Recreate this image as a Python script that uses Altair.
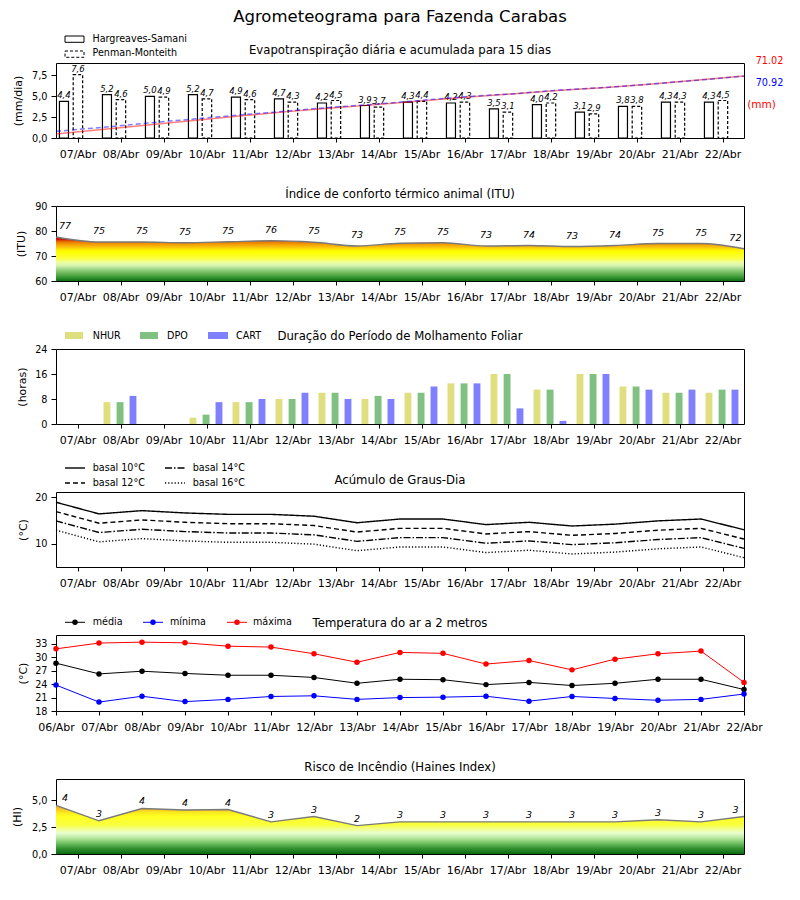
import json
import altair as alt
import pandas as pd

# ---------------- data ----------------
dates16 = ["07/Abr", "08/Abr", "09/Abr", "10/Abr", "11/Abr", "12/Abr", "13/Abr", "14/Abr",
           "15/Abr", "16/Abr", "17/Abr", "18/Abr", "19/Abr", "20/Abr", "21/Abr", "22/Abr"]
dates17 = ["06/Abr", "07/Abr", "08/Abr", "09/Abr", "10/Abr", "11/Abr", "12/Abr", "13/Abr", "14/Abr",
           "15/Abr", "16/Abr", "17/Abr", "18/Abr", "19/Abr", "20/Abr", "21/Abr", "22/Abr"]

et_hs = [4.4, 5.2, 5.0, 5.2, 4.9, 4.7, 4.2, 3.9, 4.3, 4.2, 3.5, 4.0, 3.1, 3.8, 4.3, 4.3]
et_pm = [7.6, 4.6, 4.9, 4.7, 4.6, 4.3, 4.5, 3.7, 4.4, 4.3, 3.1, 4.2, 2.9, 3.8, 4.3, 4.5]
cum_hs = [4.5, 9.8, 14.9, 20.2, 25.2, 30.0, 34.4, 38.4, 42.8, 47.1, 50.7, 54.8, 58.0, 61.9, 66.4, 71.02]
cum_pm = [7.6, 12.2, 17.1, 21.8, 26.4, 30.7, 35.2, 38.9, 43.3, 47.6, 50.8, 55.0, 58.0, 61.9, 66.3, 70.92]
cum_totals = ["71.02", "70.92"]

itu = [77.6, 75.6, 75.6, 75.3, 75.7, 76.1, 75.5, 74.0, 75.1, 75.3, 74.0, 74.2, 73.8, 74.2, 75.0, 75.0, 72.9]
itu_labels = [77, 75, 75, 75, 75, 76, 75, 73, 75, 75, 73, 74, 73, 74, 75, 75, 72]

nhur = [0, 7, 0, 2, 7, 8, 10, 8, 10, 13, 16, 11, 16, 12, 10, 10]
dpo = [0, 7, 0, 3, 7, 8, 10, 9, 10, 13, 16, 11, 16, 12, 10, 11]
cart = [0, 9, 0, 7, 8, 10, 8, 8, 12, 13, 5, 1, 16, 11, 11, 11]

gd10 = [18.9, 16.4, 17.1, 16.6, 16.3, 16.3, 15.9, 14.5, 15.3, 15.3, 14.1, 14.6, 13.8, 14.2, 14.9, 15.3, 13.0]
gd12 = [16.9, 14.4, 15.1, 14.6, 14.3, 14.3, 13.9, 12.5, 13.3, 13.3, 12.1, 12.6, 11.8, 12.2, 12.9, 13.3, 11.0]
gd14 = [14.9, 12.4, 13.1, 12.6, 12.3, 12.3, 11.9, 10.5, 11.3, 11.3, 10.1, 10.6, 9.8, 10.2, 10.9, 11.3, 9.0]
gd16 = [12.9, 10.4, 11.1, 10.6, 10.3, 10.3, 9.9, 8.5, 9.3, 9.3, 8.1, 8.6, 7.8, 8.2, 8.9, 9.3, 7.0]

t_med = [28.7, 26.3, 26.9, 26.4, 26.0, 26.0, 25.5, 24.2, 25.1, 25.0, 23.9, 24.4, 23.7, 24.2, 25.1, 25.1, 22.8]
t_min = [23.8, 20.0, 21.3, 20.1, 20.6, 21.25, 21.4, 20.6, 21.0, 21.1, 21.3, 20.2, 21.25, 20.8, 20.4, 20.6, 21.8]
t_max = [31.9, 33.2, 33.4, 33.25, 32.5, 32.3, 30.8, 28.9, 31.1, 30.9, 28.5, 29.3, 27.2, 29.6, 30.8, 31.4, 24.4]

haines = [4.53, 3.1, 4.25, 4.1, 4.15, 3.0, 3.5, 2.65, 3.0, 3.0, 3.0, 3.0, 3.0, 3.0, 3.2, 3.0, 3.5]
haines_labels = [4, 3, 4, 4, 4, 3, 3, 2, 3, 3, 3, 3, 3, 3, 3, 3, 3]

# ---------------- helpers ----------------
FONT = "DejaVu Sans"
W = 688
H = 75
ONE = pd.DataFrame({"t": [""]})


def xaxis(labels):
    return alt.Axis(values=list(range(len(labels))), labelExpr=json.dumps(labels) + "[datum.value]",
                    title=None, labelFlush=False, labelOverlap=False, labelFontSize=11,
                    labelPadding=6, tickSize=4, domain=False, grid=False)


def yaxis(title, values, title_x, comma=False, h=H):
    kw = {}
    if comma:
        kw["labelExpr"] = "replace(format(datum.value, '.1f'), '.', ',')"
    else:
        kw["format"] = "d"
    return alt.Axis(values=values, title=title, titleX=title_x, titleY=h / 2, titleFontSize=11,
                    titleFontWeight="normal", labelFontSize=9.7, labelPadding=4, tickSize=5,
                    domain=False, grid=False, labelFlush=False, labelOverlap=False, **kw)


def txt(label, x, y, size=9.6, align="left", color="black", **kw):
    return alt.Chart(pd.DataFrame({"t": [label]})).mark_text(
        align=align, baseline="middle", fontSize=size, color=color, **kw
    ).encode(x=alt.value(x), y=alt.value(y), text="t:N")


def rect(x, x2, y, y2, **kw):
    return alt.Chart(ONE).mark_rect(**kw).encode(
        x=alt.value(x), x2=alt.value(x2), y=alt.value(y), y2=alt.value(y2))


def hline(x, x2, y, **kw):
    return alt.Chart(ONE).mark_rule(**kw).encode(x=alt.value(x), x2=alt.value(x2), y=alt.value(y))


def dot(x, y, color):
    return alt.Chart(ONE).mark_point(filled=True, size=30, color=color, opacity=1).encode(
        x=alt.value(x), y=alt.value(y))


def title(s, y=-12.5):
    return txt(s, W / 2, y, size=11.7, align="center")


def gradient(stops, top, bottom):
    gs = []
    for v, c in stops:
        off = (top - v) / (top - bottom)
        gs.append(alt.GradientStop(color=c, offset=max(0.0, min(1.0, off))))
    gs.sort(key=lambda g: g.offset)
    return alt.LinearGradient(gradient="linear", stops=gs, x1=0, x2=0, y1=0, y2=1)


xs16 = alt.Scale(domain=[-0.5, 15.5], nice=False, zero=False)
xs17 = alt.Scale(domain=[0, 16], nice=False, zero=False)
ax16 = xaxis(dates16)
ax17 = xaxis(dates17)

# ---------------- panel 1: ET ----------------
df1 = pd.DataFrame({"i": list(range(16)), "hs": et_hs, "pm": et_pm})
ys1 = alt.Scale(domain=[0, 9], nice=False, zero=False)
ay1 = yaxis("(mm/dia)", [0, 2.5, 5, 7.5], -33, comma=True)
b1 = alt.Chart(df1).transform_calculate(
    hx1="datum.i - 0.42", hx2="datum.i - 0.21", hc="datum.i - 0.315",
    px1="datum.i - 0.10", px2="datum.i + 0.12", pc="datum.i + 0.01",
    hl="replace(format(datum.hs, '.1f'), '.', ',')",
    pl="replace(format(datum.pm, '.1f'), '.', ',')",
)
hs_bar = b1.mark_bar(fill="white", stroke="black", strokeWidth=1.2).encode(
    x=alt.X("hx1:Q", scale=xs16, axis=ax16), x2="hx2:Q",
    y=alt.Y("hs:Q", scale=ys1, axis=ay1), y2=alt.datum(0))
pm_bar = b1.mark_bar(fill="white", stroke="black", strokeWidth=1.2, strokeDash=[3, 2]).encode(
    x=alt.X("px1:Q", scale=xs16, axis=ax16), x2="px2:Q",
    y=alt.Y("pm:Q", scale=ys1, axis=ay1), y2=alt.datum(0))
hs_t = b1.mark_text(fontStyle="italic", fontSize=8.5, baseline="bottom", dy=-1).encode(
    x=alt.X("hc:Q", scale=xs16, axis=ax16), y=alt.Y("hs:Q", scale=ys1, axis=ay1), text="hl:N")
pm_t = b1.mark_text(fontStyle="italic", fontSize=8.5, baseline="bottom", dy=-1).encode(
    x=alt.X("pc:Q", scale=xs16, axis=ax16), y=alt.Y("pm:Q", scale=ys1, axis=ay1), text="pl:N")
bars1 = alt.layer(hs_bar, pm_bar, hs_t, pm_t)

dfc = pd.DataFrame({"i": list(range(16)), "hs": cum_hs, "pm": cum_pm})
xsc = alt.Scale(domain=[0, 15], nice=False, zero=False)
ysc = alt.Scale(domain=[0, 86], nice=False, zero=False)
l_hs = alt.Chart(dfc).mark_line(color="#ff0000", opacity=0.5, strokeWidth=1.5).encode(
    x=alt.X("i:Q", scale=xsc, axis=None), y=alt.Y("hs:Q", scale=ysc, axis=None))
l_pm = alt.Chart(dfc).mark_line(color="#0000ff", opacity=0.5, strokeWidth=1.5, strokeDash=[5, 3]).encode(
    x=alt.X("i:Q", scale=xsc, axis=None), y=alt.Y("pm:Q", scale=ysc, axis=None))
lines1 = alt.layer(l_hs, l_pm)

deco1 = [
    alt.Chart(ONE).mark_rule(opacity=0, strokeWidth=1).encode(
        x=alt.value(-47.5), x2=alt.value(-47.5), y=alt.value(-54.5), y2=alt.value(-53.5)),
    txt("Agrometeograma para Fazenda Carabas", W / 2, -46.5, size=16.5, align="center"),
    title("Evapotranspiração diária e acumulada para 15 dias", -13),
    rect(9, 28, -27, -20.7, fill="white", stroke="black", strokeWidth=1),
    rect(9, 28, -12, -5.7, fill="white", stroke="black", strokeWidth=1, strokeDash=[3, 2]),
    txt("Hargreaves-Samani", 36.5, -23.8),
    txt("Penman-Monteith", 36.5, -9.7),
    txt(cum_totals[0], 713.5, -2, size=9.7, align="center", color="#ff0000"),
    txt(cum_totals[1], 713.5, 20, size=9.7, align="center", color="#0000ff"),
    txt("(mm)", 705.5, 42, size=10.5, align="center", color="#ff0000"),
]
p1 = alt.layer(bars1, lines1, *deco1).resolve_scale(x="independent", y="independent").properties(
    width=W, height=H)

# ---------------- panel 2: ITU ----------------
df2 = pd.DataFrame({"i": list(range(17)), "v": itu, "lab": itu_labels})
ys2 = alt.Scale(domain=[60, 90], nice=False, zero=False)
ay2 = yaxis("(ITU)", [60, 70, 80, 90], -30)
itu_stops = [(77.6, "#cc0000"), (76.5, "#d41808"), (76.1, "#e05400"), (75.4, "#ec8000"),
             (74.6, "#f4a000"), (73.6, "#f8c010"), (72.4, "#fff000"), (71.6, "#ffff00"),
             (69.0, "#faff40"), (67.5, "#eeffa0"), (66.2, "#d8f5b0"), (64.8, "#a0d88a"),
             (63.2, "#6cb85a"), (61.6, "#3a9a35"), (60.0, "#0a6e10")]
g2 = gradient(itu_stops, max(itu), 60)
b2 = alt.Chart(df2).transform_calculate(x="datum.i - 0.5", xl="clamp(datum.i - 0.5, -0.29, 15.3)")
area2 = b2.mark_area(interpolate="monotone", color=g2).encode(
    x=alt.X("x:Q", scale=xs16, axis=ax16), y=alt.Y("v:Q", scale=ys2, axis=ay2), y2=alt.datum(60))
line2 = b2.mark_line(interpolate="monotone", color="#7a7a7a", strokeWidth=1.4).encode(
    x=alt.X("x:Q", scale=xs16, axis=ax16), y=alt.Y("v:Q", scale=ys2, axis=ay2))
text2 = b2.mark_text(fontStyle="italic", fontSize=9.5, baseline="middle", dy=-11).encode(
    x=alt.X("xl:Q", scale=xs16, axis=ax16), y=alt.Y("v:Q", scale=ys2, axis=ay2), text="lab:N")
p2 = alt.layer(area2, line2, text2, title("Índice de conforto térmico animal (ITU)")).properties(
    width=W, height=H)

# ---------------- panel 3: leaf wetness ----------------
df3 = pd.DataFrame({"i": list(range(16)), "NHUR": nhur, "DPO": dpo, "CART": cart})
ys3 = alt.Scale(domain=[0, 24], nice=False, zero=False)
ay3 = yaxis("(horas)", [0, 8, 16, 24], -29)
b3 = alt.Chart(df3).transform_fold(["NHUR", "DPO", "CART"], as_=["s", "v"]).transform_calculate(
    off="datum.s == 'NHUR' ? -0.315 : (datum.s == 'DPO' ? -0.01 : 0.29)"
).transform_calculate(x1="datum.i + datum.off - 0.08", x2="datum.i + datum.off + 0.08")
bars3 = b3.mark_bar().encode(
    x=alt.X("x1:Q", scale=xs16, axis=ax16), x2="x2:Q",
    y=alt.Y("v:Q", scale=ys3, axis=ay3), y2=alt.datum(0),
    color=alt.Color("s:N", scale=alt.Scale(domain=["NHUR", "DPO", "CART"],
                                           range=["#dfdf80", "#80c080", "#8080ff"]), legend=None))
deco3 = [
    title("Duração do Período de Molhamento Foliar", -13),
    rect(9, 27, -17, -10, fill="#dfdf80"), txt("NHUR", 36.7, -13.3),
    rect(84, 102, -17, -10, fill="#80c080"), txt("DPO", 111, -13.3),
    rect(152, 172, -17, -10, fill="#8080ff"), txt("CART", 180, -13.3),
]
p3 = alt.layer(bars3, *deco3).properties(width=W, height=H)

# ---------------- panel 4: degree days ----------------
df4 = pd.DataFrame({"i": list(range(17)), "b10": gd10, "b12": gd12, "b14": gd14, "b16": gd16})
ys4 = alt.Scale(domain=[5, 21.1], nice=False, zero=False)
ay4 = yaxis("(°C)", [10, 20], -28)
lines4 = alt.Chart(df4).transform_fold(["b10", "b12", "b14", "b16"], as_=["g", "v"]).transform_calculate(
    x="datum.i - 0.5").mark_line(color="black", strokeWidth=1.4).encode(
    x=alt.X("x:Q", scale=xs16, axis=ax16), y=alt.Y("v:Q", scale=ys4, axis=ay4),
    strokeDash=alt.StrokeDash("g:N", scale=alt.Scale(
        domain=["b10", "b12", "b14", "b16"],
        range=[[1, 0], [5, 3], [7, 2, 1.5, 2], [1.2, 2]]), legend=None),
    detail="g:N")
deco4 = [
    title("Acúmulo de Graus-Dia", -12),
    hline(9, 29, -24, color="black", strokeWidth=1.4), txt("basal 10°C", 36.7, -24),
    hline(9, 29, -9, color="black", strokeWidth=1.4, strokeDash=[5, 3]), txt("basal 12°C", 36.7, -9),
    hline(109, 129, -24, color="black", strokeWidth=1.4, strokeDash=[7, 2, 1.5, 2]), txt("basal 14°C", 136.7, -24),
    hline(109, 129, -9, color="black", strokeWidth=1.4, strokeDash=[1.2, 2]), txt("basal 16°C", 136.7, -9),
]
p4 = alt.layer(lines4, *deco4).properties(width=W, height=H)

# ---------------- panel 5: air temperature ----------------
H5 = 76
df5 = pd.DataFrame({"i": list(range(17)), "med": t_med, "mn": t_min, "mx": t_max})
ys5 = alt.Scale(domain=[18, 35], nice=False, zero=False)
ay5 = yaxis("(°C)", [18, 21, 24, 27, 30, 33], -28, h=H5)
lines5 = alt.Chart(df5).transform_fold(["med", "mn", "mx"], as_=["tt", "v"]).mark_line(
    strokeWidth=1, point=alt.OverlayMarkDef(filled=True, size=30, opacity=1)).encode(
    x=alt.X("i:Q", scale=xs17, axis=ax17), y=alt.Y("v:Q", scale=ys5, axis=ay5),
    color=alt.Color("tt:N", scale=alt.Scale(domain=["med", "mn", "mx"],
                                            range=["#000000", "#0000ff", "#ff0000"]), legend=None))
deco5 = [
    title("Temperatura do ar a 2 metros", -12.5),
    hline(9, 29, -12.7, color="black", strokeWidth=1), dot(19, -12.7, "black"), txt("média", 36.7, -12.7),
    hline(87, 107, -12.7, color="#0000ff", strokeWidth=1), dot(97, -12.7, "#0000ff"), txt("mínima", 114, -12.7),
    hline(171, 191, -12.7, color="#ff0000", strokeWidth=1), dot(181, -12.7, "#ff0000"), txt("máxima", 197, -12.7),
]
p5 = alt.layer(lines5, *deco5).properties(width=W, height=H5)

# ---------------- panel 6: Haines ----------------
df6 = pd.DataFrame({"i": list(range(17)), "v": haines, "lab": haines_labels})
ys6 = alt.Scale(domain=[0, 7], nice=False, zero=False)
ay6 = yaxis("(HI)", [0, 2.5, 5], -34, comma=True)
hi_stops = [(4.53, "#f0a020"), (4.2, "#f7c020"), (3.9, "#fbe820"), (3.5, "#ffff20"), (2.7, "#f8ff40"),
            (2.25, "#f0ffa0"), (1.95, "#e8ffd0"), (1.5, "#b8e8a0"), (1.0, "#70c060"), (0.5, "#309030"),
            (0.0, "#0a6a10")]
g6 = gradient(hi_stops, max(haines), 0)
b6 = alt.Chart(df6).transform_calculate(x="datum.i - 0.5", xl="clamp(datum.i - 0.5, -0.29, 15.3)")
area6 = b6.mark_area(color=g6).encode(
    x=alt.X("x:Q", scale=xs16, axis=ax16), y=alt.Y("v:Q", scale=ys6, axis=ay6), y2=alt.datum(0))
line6 = b6.mark_line(color="#7a7a7a", strokeWidth=1.4).encode(
    x=alt.X("x:Q", scale=xs16, axis=ax16), y=alt.Y("v:Q", scale=ys6, axis=ay6))
text6 = b6.mark_text(fontStyle="italic", fontSize=9.5, baseline="middle", dy=-7).encode(
    x=alt.X("xl:Q", scale=xs16, axis=ax16), y=alt.Y("v:Q", scale=ys6, axis=ay6), text="lab:N")
p6 = alt.layer(area6, line6, text6, title("Risco de Incêndio (Haines Index)", -12.3)).properties(
    width=W, height=H)

chart = alt.vconcat(p1, p2, p3, p4, p5, p6, spacing=68, bounds="flush").resolve_scale(
    color="independent", strokeDash="independent"
).properties(
    padding=0
).configure(font=FONT).configure_view(stroke="black", strokeWidth=1).configure_axis(
    labelColor="black", tickColor="black", titleColor="black", labelFont=FONT, titleFont=FONT
)

chart.save("out.html", embed_options={"renderer": "svg", "actions": False})
